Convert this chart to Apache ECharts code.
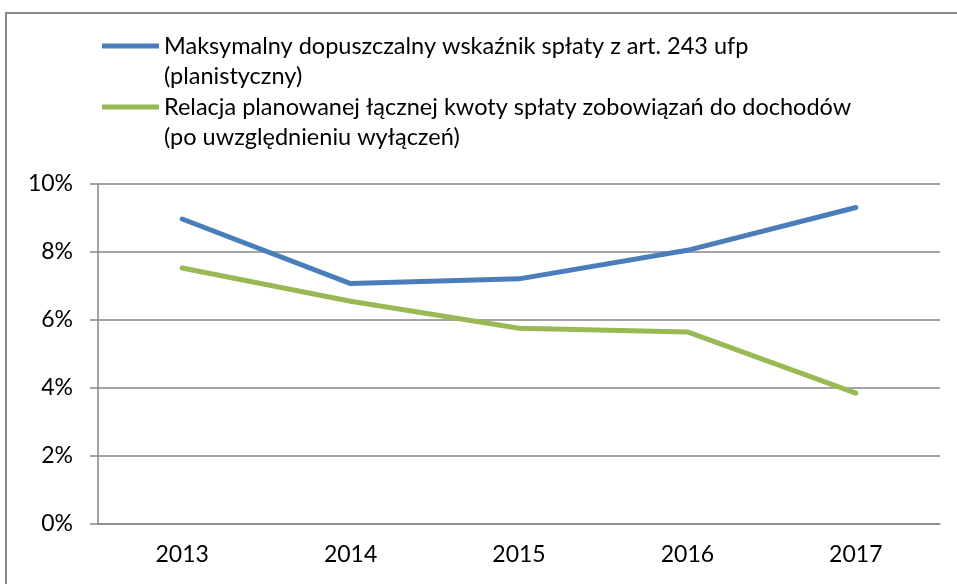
<!DOCTYPE html>
<html>
<head>
<meta charset="utf-8">
<script src="https://cdn.jsdelivr.net/npm/echarts@6/dist/echarts.min.js"></script>
<style>
  html, body { margin: 0; padding: 0; background: #fff; }
  #chart { width: 957px; height: 584px; }
</style>
</head>
<body>
<div id="chart"></div>
<script>
const years = ['2013', '2014', '2015', '2016', '2017'];
const maxIndicator = [8.97, 7.07, 7.21, 8.05, 9.31];
const repaymentRatio = [7.53, 6.55, 5.76, 5.65, 3.85];
const yTicks = { min: 0, max: 10, step: 2 };

const seriesNames = [
  'Maksymalny dopuszczalny wskaźnik spłaty z art. 243 ufp\n(planistyczny)',
  'Relacja planowanej łącznej kwoty spłaty zobowiązań do dochodów\n(po uwzględnieniu wyłączeń)'
];

const font = 'Lato';
const gridColor = '#868686';

// leading blank line keeps the icon level with the first text line
const legendBase = {
  left: 102,
  padding: 0,
  icon: 'rect',
  itemWidth: 57,
  itemHeight: 5,
  itemGap: 3,
  selectedMode: false,
  formatter: name => '\n' + name,
  textStyle: {
    fontFamily: font,
    fontSize: 23.5,
    color: '#000',
    lineHeight: 30
  }
};

const chart = echarts.init(document.getElementById('chart'));
chart.setOption({
  animation: false,
  graphic: [{
    type: 'rect',
    shape: { x: 6, y: 13, width: 1200, height: 1000 },
    style: { fill: 'none', stroke: '#8a8a8a', lineWidth: 2 },
    z: -1
  }],
  legend: [
    Object.assign({}, legendBase, { top: 1, data: [seriesNames[0]] }),
    Object.assign({}, legendBase, { top: 62, data: [seriesNames[1]] })
  ],
  grid: {
    left: 98,
    right: 17,
    top: 184,
    bottom: 60
  },
  xAxis: {
    type: 'category',
    data: years,
    boundaryGap: true,
    axisLine: { lineStyle: { color: gridColor, width: 1.5 } },
    axisTick: { length: 7, lineStyle: { color: gridColor, width: 1.5 } },
    axisLabel: { fontFamily: font, fontSize: 23, color: '#000', margin: 19 }
  },
  yAxis: {
    type: 'value',
    min: yTicks.min,
    max: yTicks.max,
    interval: yTicks.step,
    axisLine: { show: true, lineStyle: { color: gridColor, width: 1.5 } },
    axisTick: { show: true, length: 8, lineStyle: { color: gridColor, width: 1.5 } },
    axisLabel: { fontFamily: font, fontSize: 23, color: '#000', margin: 25, formatter: '{value}%' },
    splitLine: { lineStyle: { color: gridColor, width: 1.5 } }
  },
  series: [
    {
      name: seriesNames[0],
      type: 'line',
      data: maxIndicator,
      showSymbol: false,
      symbol: 'none',
      itemStyle: { color: '#4A7EBB' },
      lineStyle: { color: '#4A7EBB', width: 5, cap: 'round', join: 'round' }
    },
    {
      name: seriesNames[1],
      type: 'line',
      data: repaymentRatio,
      showSymbol: false,
      symbol: 'none',
      itemStyle: { color: '#98B954' },
      lineStyle: { color: '#98B954', width: 5, cap: 'round', join: 'round' }
    }
  ]
});
</script>
</body>
</html>
